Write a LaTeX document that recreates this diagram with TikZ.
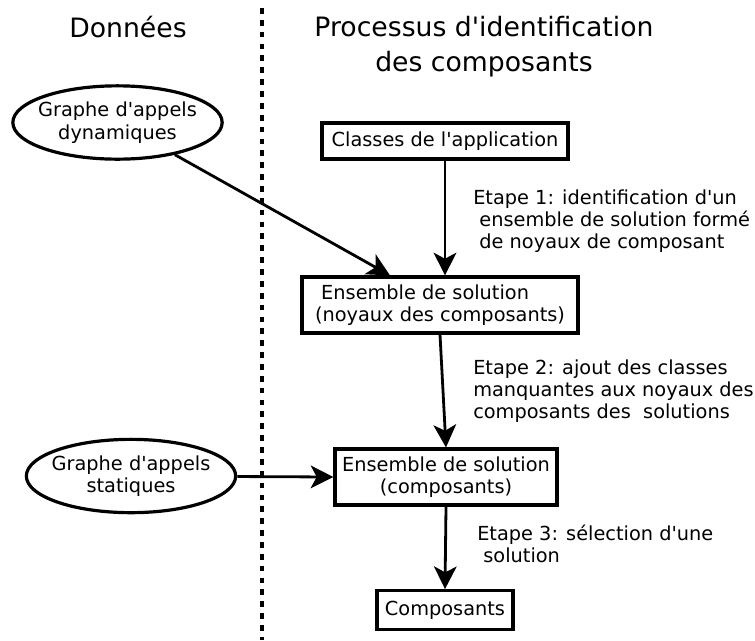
\documentclass[tikz,border=0pt]{standalone}
\usepackage{fontspec}
\setmainfont{DejaVu Sans}
\usetikzlibrary{shapes.geometric,arrows.meta,calc}

\begin{document}
\begin{tikzpicture}[x=0.75pt, y=-0.75pt,
    boite/.style={draw, line width=2.4pt, inner sep=0pt, align=center, font=\fontsize{14.5}{17}\selectfont},
    donnee/.style={draw, ellipse, line width=2.4pt, inner xsep=-4pt, inner ysep=0pt, minimum width=157pt, minimum height=55pt, align=center, font=\fontsize{14.5}{17}\selectfont},
    etape/.style={anchor=north west, inner sep=0pt, align=left, font=\fontsize{14.5}{16.5}\selectfont},
    titre/.style={inner sep=0pt, align=center, font=\fontsize{20}{26}\selectfont},
    fleche/.style={line width=2.1pt, -{Stealth[length=17pt, width=17pt, inset=4.5pt]}}]
\useasboundingbox (0,0) rectangle (755,640);
\draw[line width=2.5pt, dash pattern=on 4.3pt off 4.6pt] (262,8) -- (262,640);
\node[titre, anchor=base] (donnees) at (128,37) {Données};
\node[titre, anchor=north] (processus) at (484,16) {Processus d\textquotesingle identification\\des composants};
\node[donnee] (dyn) at (117.5,122.5) {Graphe d\textquotesingle appels\\dynamiques};
\node[donnee] (stat) at (131,476) {Graphe d\textquotesingle appels\\statiques};
\node[boite, minimum width=184.5pt, minimum height=27pt] (classes) at (445,141) {Classes de l\textquotesingle application};
\node[boite, minimum width=207pt, minimum height=42pt, align=left] (noyaux) at (440,305) {~Ensemble de solution\\(noyaux des composants)};
\node[boite, minimum width=166.5pt, minimum height=42pt] (solution) at (446,477) {Ensemble de solution\\(composants)};
\node[boite, minimum width=102pt, minimum height=29pt] (composants) at (445,610) {Composants};
\node[etape] (etape1) at (473,190) {Etape 1: identification d\textquotesingle un\\~ensemble de solution formé\\~de noyaux de composant};
\node[etape] (etape2) at (473,360) {Etape 2: ajout des classes\\manquantes aux noyaux des\\composants des~~solutions};
\node[etape] (etape3) at (477,525) {Etape 3: sélection d\textquotesingle une\\~solution};
\draw[fleche] (classes.south) -- (classes.south |- noyaux.north);
\draw[fleche] (dyn) -- ($(noyaux.north)+(-50,0)$);
\draw[fleche] (noyaux.south) -- (solution.north);
\draw[fleche] (stat) -- (solution.west);
\draw[fleche] (solution.south) -- (composants.north);
\end{tikzpicture}
\end{document}
